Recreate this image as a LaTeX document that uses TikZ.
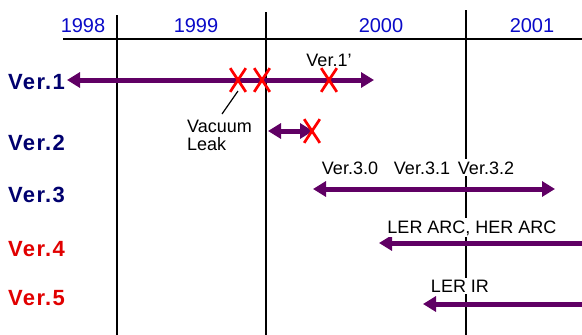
\documentclass[tikz,border=0pt]{standalone}
\usepackage{fontspec}
\setmainfont{Liberation Sans}
\newfontfamily\verfont[LetterSpace=6]{Liberation Sans}
\usetikzlibrary{arrows.meta,shapes.misc}
\definecolor{navy}{RGB}{0,0,110}
\definecolor{yearblue}{RGB}{10,10,200}
\definecolor{verred}{RGB}{225,0,0}
\definecolor{arrpurple}{RGB}{96,0,100}
\tikzset{mytip/.tip={Triangle[length=13pt,width=15pt]}}
\begin{document}
\begin{tikzpicture}[x=1pt,y=-1pt,
  grid/.style={line width=2pt,black},
  year/.style={anchor=base,text=yearblue,font=\fontsize{20}{22}\selectfont,inner sep=0pt},
  ver/.style={anchor=base west,font=\verfont\bfseries\fontsize{22}{24}\selectfont,inner sep=0pt},
  lbl/.style={anchor=base,font=\fontsize{18}{20}\selectfont,inner sep=0pt},
  wlbl/.style={lbl,fill=white,inner sep=2pt},
  arr/.style={line width=5pt,arrpurple},
  xmk/.style={cross out,draw=red,line width=2.7pt,minimum width=13pt,minimum height=21pt,inner sep=0pt}]
\useasboundingbox (0,0) rectangle (582,335);
% grid
\coordinate (hl) at (63,39);
\coordinate (hr) at (582,39);
\draw[grid] (hl) -- (hr);
\coordinate (v1t) at (117,15); \coordinate (v1b) at (117,335);
\coordinate (v2t) at (266,12); \coordinate (v2b) at (266,335);
\coordinate (v3t) at (466,10); \coordinate (v3b) at (466,335);
\draw[grid] (v1t) -- (v1b);
\draw[grid] (v2t) -- (v2b);
\draw[grid] (v3t) -- (v3b);
% years
\node[year] (y98) at (83,32) {1998};
\node[year] (y99) at (196,32) {1999};
\node[year] (y00) at (381,32) {2000};
\node[year] (y01) at (532,32) {2001};
% version labels
\node[ver,text=navy] (ver1) at (8,89) {Ver.1};
\node[ver,text=navy] (ver2) at (8,150) {Ver.2};
\node[ver,text=navy] (ver3) at (8,202) {Ver.3};
\node[ver,text=verred] (ver4) at (8,256) {Ver.4};
\node[ver,text=verred] (ver5) at (8,305) {Ver.5};
% Ver.1
\coordinate (a1l) at (67,80); \coordinate (a1r) at (374,80);
\draw[arr,mytip-mytip] (a1l) -- (a1r);
\node[lbl] (v1p) at (329,66) {Ver.1’};
\node[xmk] (x1) at (238,80) {};
\node[xmk] (x2) at (262,80) {};
\node[xmk] (x3) at (329,80) {};
\node[lbl,anchor=base west] (vac) at (187,132) {Vacuum};
\node[lbl,anchor=base west] (leak) at (187,150) {Leak};
\coordinate (vl1) at (238,91); \coordinate (vl2) at (222,114);
\draw[line width=1.2pt] (vl1) -- (vl2);
% Ver.2
\coordinate (a2l) at (268,131); \coordinate (a2r) at (313,131);
\draw[arr,mytip-mytip] (a2l) -- (a2r);
\node[xmk] (x4) at (312,131) {};
% Ver.3
\coordinate (a3l) at (313,189); \coordinate (a3r) at (555,189);
\draw[arr,mytip-mytip] (a3l) -- (a3r);
\node[wlbl] (v30) at (350,174) {Ver.3.0};
\node[wlbl] (v31) at (422,174) {Ver.3.1};
\node[wlbl] (v32) at (486,174) {Ver.3.2};
% Ver.4
\coordinate (a4l) at (379,243); \coordinate (a4r) at (582,243);
\draw[arr,mytip-] (a4l) -- (a4r);
\node[wlbl] (ler) at (472,233) {LER ARC, HER ARC};
% Ver.5
\coordinate (a5l) at (423,304); \coordinate (a5r) at (582,304);
\draw[arr,mytip-] (a5l) -- (a5r);
\node[wlbl] (lir) at (460,292) {LER IR};
\end{tikzpicture}
\end{document}
